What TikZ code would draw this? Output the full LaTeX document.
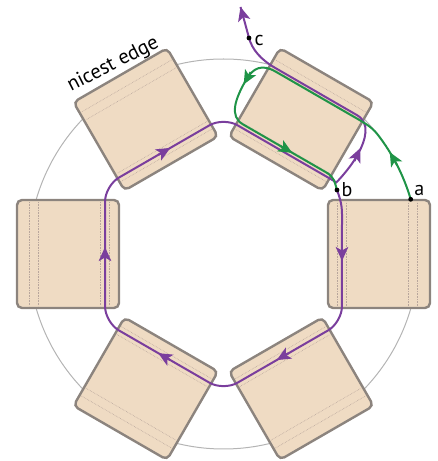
\documentclass[tikz,border=0pt]{standalone}
\usepackage{fontspec}
\setmainfont{PT Sans}
\usetikzlibrary{arrows.meta,calc}
\definecolor{sqfill}{HTML}{EFDBC3}
\definecolor{sqedge}{HTML}{8C847E}
\definecolor{pathpurple}{HTML}{7A3E9D}
\definecolor{pathgreen}{HTML}{1F9447}
\definecolor{ringgray}{HTML}{B4B4B4}
\definecolor{dotcol}{HTML}{B8A69C}
\begin{document}
\begin{tikzpicture}[x=1pt,y=1pt,
  sq/.style={fill=sqfill, draw=sqedge, line width=2.4pt, rounded corners=5pt},
  seam/.style={dotcol, line width=0.6pt, densely dotted},
  ppath/.style={pathpurple, line width=2pt},
  gpath/.style={pathgreen, line width=2pt},
  ptip/.style={ppath, -{Stealth[length=14pt,width=12.5pt,inset=3.5pt]}},
  gtip/.style={gpath, -{Stealth[length=14pt,width=12.5pt,inset=3.5pt]}},
  lbl/.style={font=\fontsize{20}{22}\selectfont, inner sep=0pt},
  edgelbl/.style={font=\fontsize{20.5}{22}\selectfont, inner sep=1pt},
  dot/.style={fill=black}
]
\useasboundingbox (0,0) rectangle (438,461);
\begin{scope}[shift={(223.5,207)}]
  \draw[ringgray, line width=1pt] (0,0) circle[radius=195];
  \foreach \a in {0,60,...,300}{
    \begin{scope}[rotate=\a]
      \draw[sq] (104.5,-54) rectangle (206.5,54);
      \foreach \r in {114,123,185,194} \draw[seam] (\r,-52) -- (\r,52);
    \end{scope}}
  \coordinate (a) at (187.2,54.7);
  \coordinate (b) at (113.5,64);
  \coordinate (c) at (25.5,216);
  \coordinate (tip) at (17,247);
  % purple path
  \draw[ppath] (b) .. controls (116,57) and (118.5,50) .. (118.5,40)
    [rounded corners=16pt] -- (-30:136.8) -- (-90:136.8) -- (-150:136.8)
    -- (150:136.8) -- (90:136.8) -- ([rotate=60]118.5,-46) [sharp corners]
    .. controls ([rotate=60]118.5,-62) and ([rotate=60]138,-67) .. ([rotate=60]154,-66.5)
    .. controls ([rotate=60]170,-66) and ([rotate=60]187,-62) .. ([rotate=60]187,-46)
    -- ([rotate=60]187,48)
    .. controls (37.2,194.4) and (28.7,204.4) .. (c)
    .. controls (22.3,228) .. (tip);
  \draw[ptip] ($(c)!0.75!(tip)$) -- (tip);
  \foreach \a in {0,-60,-120,180,120}
    \draw[ptip] ([rotate=\a]118.5,7) -- ([rotate=\a]118.5,-7);
  \draw[ptip] ([rotate=60]146,-67) -- ([rotate=60]160,-65.5);
  % green path
  \draw[gpath] (a) arc[start angle=16.3, end angle=38, radius=195]
    .. controls ([rotate=60]184.5,-63.7) and ([rotate=60]184,-55) .. ([rotate=60]184,-40)
    -- ([rotate=60]184,46)
    .. controls ([rotate=60]184,62) and ([rotate=60]176,67.5) .. ([rotate=60]162,67.5)
    .. controls ([rotate=60]140,67.5) and ([rotate=60]122,64) .. ([rotate=60]122,48)
    -- ([rotate=60]122,-48)
    .. controls ([rotate=60]122,-58) and (111,72) .. (b);
  \draw[gtip] (27:195) -- (31.5:195);
  \draw[gtip] ([rotate=60]171,67.5) -- ([rotate=60]157,67.3);
  \draw[gtip] ([rotate=60]122,5) -- ([rotate=60]122,-9);
  % points and labels
  \foreach \p in {a,b,c} \fill[dot] (\p) circle[radius=2.4];
  \node[lbl, anchor=base west] (la) at ([shift={(3.5,3.3)}]a) {a};
  \node[lbl, anchor=base west] (lb) at ([shift={(4.5,-6.7)}]b) {b};
  \node[lbl, anchor=base west] (lc) at ([shift={(5.5,-8)}]c) {c};
  \node[edgelbl, anchor=base, rotate=27] (ne) at (-108,185) {nicest edge};
\end{scope}
\end{tikzpicture}
\end{document}
